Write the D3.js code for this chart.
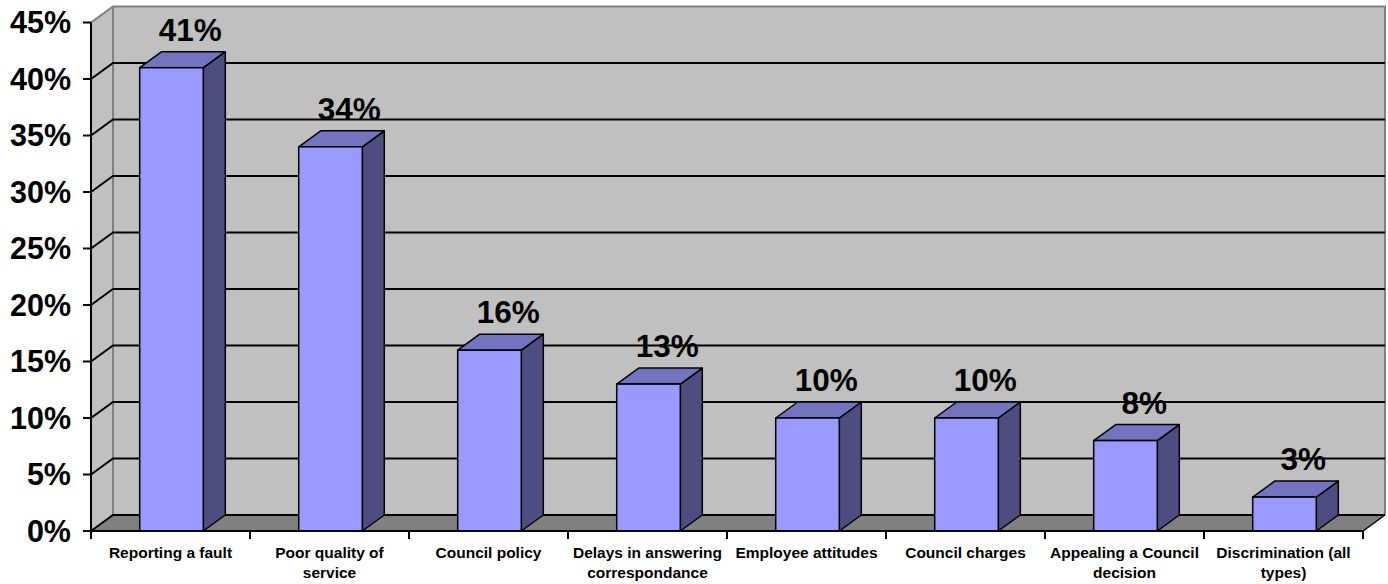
<!DOCTYPE html>
<html>
<head>
<meta charset="utf-8">
<script src="https://cdn.jsdelivr.net/npm/d3@7"></script>
<style>
  html, body { margin: 0; padding: 0; background: #ffffff; }
  svg { display: block; }
  text { font-family: "Liberation Sans", Arial, sans-serif; font-weight: bold; fill: #000; }
</style>
</head>
<body>
<svg id="chart" width="1388" height="584"></svg>
<script>
// ---- data ----
const categories = [
  "Reporting a fault",
  "Poor quality of\nservice",
  "Council policy",
  "Delays in answering\ncorrespondance",
  "Employee attitudes",
  "Council charges",
  "Appealing a Council\ndecision",
  "Discrimination (all\ntypes)"
];
const values = [41, 34, 16, 13, 10, 10, 8, 3];
const yTicks = [0, 5, 10, 15, 20, 25, 30, 35, 40, 45];

// ---- layout ----
const x0 = 91, x1 = 1363;      // front floor edge
const yBottom = 531, yTop = 22.5;
const DX = 22, DY = -16;       // depth offset

const svg = d3.select("#chart");

const x = d3.scaleBand().domain(categories).range([x0, x1]).padding(0);
const y = d3.scaleLinear().domain([0, 45]).range([yBottom, yTop]);
const barW = x.bandwidth() * 0.4;

const pts = a => a.map(p => p.join(",")).join(" ");

// back wall
svg.append("polygon")
  .attr("points", pts([[x0 + DX, y(45) + DY], [x1 + DX, y(45) + DY], [x1 + DX, y(0) + DY], [x0 + DX, y(0) + DY]]))
  .attr("fill", "#C0C0C0");
// left side wall
svg.append("polygon")
  .attr("points", pts([[x0, y(45)], [x0 + DX, y(45) + DY], [x0 + DX, y(0) + DY], [x0, y(0)]]))
  .attr("fill", "#C0C0C0");
// floor
svg.append("polygon")
  .attr("points", pts([[x0, y(0)], [x1, y(0)], [x1 + DX, y(0) + DY], [x0 + DX, y(0) + DY]]))
  .attr("fill", "#808080");

// wall borders (gray)
const border = svg.append("g").attr("stroke", "#808080").attr("stroke-width", 2).attr("fill", "none");
border.append("polyline")
  .attr("points", pts([[x0, y(45)], [x0 + DX, y(45) + DY], [x1 + DX, y(45) + DY], [x1 + DX, y(0) + DY]]));
border.append("line")
  .attr("x1", x0 + DX).attr("y1", y(45) + DY).attr("x2", x0 + DX).attr("y2", y(0) + DY);

// gridlines
const grid = svg.append("g").attr("stroke", "#000").attr("stroke-width", 2).attr("fill", "none");
yTicks.filter(t => t < 45).forEach(t => {
  grid.append("polyline")
    .attr("points", pts([[x0, y(t)], [x0 + DX, y(t) + DY], [x1 + DX, y(t) + DY]]));
});

// bars
const bars = svg.append("g").selectAll("g").data(values).join("g");
bars.each(function (v, i) {
  const g = d3.select(this);
  const cx = x(categories[i]) + x.bandwidth() / 2 + 1;
  const l = cx - barW / 2, r = cx + barW / 2;
  const t = y(v), b = y(0);
  g.append("polygon")
    .attr("points", pts([[r, t], [r + DX, t + DY], [r + DX, b + DY], [r, b]]))
    .attr("fill", "#4D4D80").attr("stroke", "#000").attr("stroke-width", 1.5).attr("stroke-linejoin", "round");
  g.append("polygon")
    .attr("points", pts([[l, t], [l + DX, t + DY], [r + DX, t + DY], [r, t]]))
    .attr("fill", "#7373BF").attr("stroke", "#000").attr("stroke-width", 1.5).attr("stroke-linejoin", "round");
  g.append("rect")
    .attr("x", l).attr("y", t).attr("width", barW).attr("height", b - t)
    .attr("fill", "#9999FF").attr("stroke", "#000").attr("stroke-width", 1.5);
});

// floor front edges
svg.append("line").attr("x1", x1).attr("y1", y(0)).attr("x2", x1 + DX).attr("y2", y(0) + DY)
  .attr("stroke", "#000").attr("stroke-width", 1.5);
svg.append("line").attr("x1", x0).attr("y1", y(0)).attr("x2", x1).attr("y2", y(0))
  .attr("stroke", "#000").attr("stroke-width", 2);

// value labels
svg.append("g").selectAll("text").data(values).join("text")
  .attr("x", (v, i) => x(categories[i]) + x.bandwidth() / 2 + DX * 0.9)
  .attr("y", v => y(v) + DY - 11)
  .attr("text-anchor", "middle")
  .attr("font-size", 31.5)
  .text(v => v + "%");

// y axis
const axis = svg.append("g");
axis.append("line").attr("x1", x0).attr("y1", y(0)).attr("x2", x0).attr("y2", y(45))
  .attr("stroke", "#000").attr("stroke-width", 2);
yTicks.forEach(t => {
  axis.append("line").attr("x1", x0 - 8).attr("x2", x0).attr("y1", y(t)).attr("y2", y(t))
    .attr("stroke", "#000").attr("stroke-width", 2);
  axis.append("text").attr("x", 71).attr("y", y(t)).attr("dy", "0.36em")
    .attr("text-anchor", "end").attr("font-size", 30.5).text(t + "%");
});

// x axis ticks
const xt = svg.append("g");
categories.forEach((c) => {
  xt.append("line").attr("x1", x(c)).attr("x2", x(c)).attr("y1", y(0)).attr("y2", y(0) + 8)
    .attr("stroke", "#000").attr("stroke-width", 2);
});
xt.append("line").attr("x1", x1).attr("x2", x1).attr("y1", y(0)).attr("y2", y(0) + 8)
  .attr("stroke", "#000").attr("stroke-width", 2);

// category labels
categories.forEach((c) => {
  const lines = c.split("\n");
  const cx = x(c) + x.bandwidth() / 2;
  const t = xt.append("text")
    .attr("x", cx).attr("y", 558)
    .attr("text-anchor", "middle")
    .attr("font-size", 15.5);
  lines.forEach((ln, j) => {
    t.append("tspan").attr("x", cx).attr("dy", j === 0 ? 0 : 20).text(ln);
  });
});
</script>
</body>
</html>
